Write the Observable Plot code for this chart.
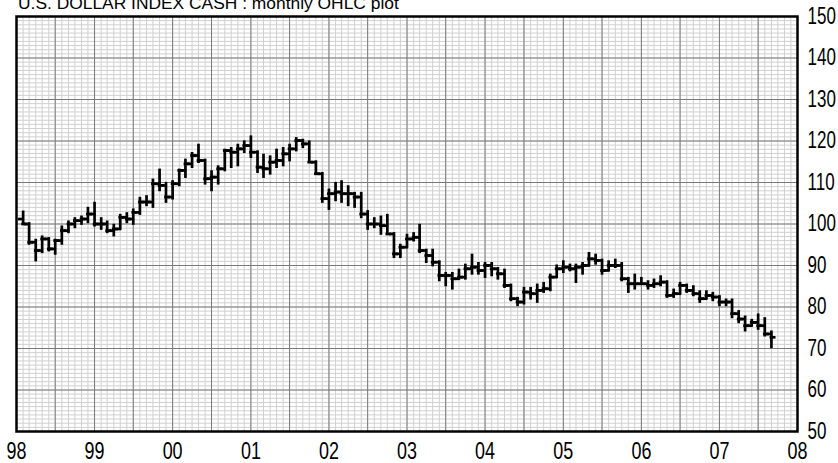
<!DOCTYPE html>
<html><head><meta charset="utf-8">
<script src="https://cdn.jsdelivr.net/npm/d3@7"></script>
<script src="https://cdn.jsdelivr.net/npm/@observablehq/plot@0.6"></script>
<style>
body{margin:0;background:#fff;}
#wrap{position:relative;width:838px;height:463px;overflow:hidden;background:#fff;}
#title{position:absolute;left:18px;top:-5px;font-family:"Liberation Sans",Arial,sans-serif;font-size:17.4px;line-height:17px;white-space:nowrap;color:#000;}
</style></head><body>
<div id="wrap"><div id="chart"></div><div id="title">U.S. DOLLAR INDEX CASH : monthly OHLC plot</div></div>
<script>
// monthly bars starting Feb 1998
const startYear = 1998, startMonth = 1;
const opens = [101.2,100.0,95.6,93.6,96.4,94.0,96.0,98.4,100.0,100.8,101.2,102.4,100.0,100.0,98.4,98.8,101.6,101.2,102.8,105.3,
  105.3,109.7,109.3,106.5,109.7,112.9,114.5,116.5,115.3,110.9,111.3,113.3,117.7,117.3,118.1,118.9,117.3,113.7,113.3,114.9,
  115.3,116.9,118.1,120.1,119.3,114.9,112.1,106.1,107.3,107.7,107.3,107.3,106.5,102.4,100.0,100.0,99.6,97.6,92.8,94.4,
  96.4,96.8,93.6,92.4,90.8,87.6,87.6,86.8,87.2,89.2,89.6,88.8,90.0,89.2,88.0,85.2,82.0,81.2,83.6,83.2,
  84.0,84.4,87.2,89.2,89.6,89.2,89.6,90.0,91.6,91.2,88.8,90.0,90.0,86.8,85.6,85.6,85.6,85.2,85.6,86.0,
  82.8,83.2,85.2,84.0,83.2,82.0,82.8,82.4,81.2,81.2,78.4,77.1,75.5,76.3,75.5,73.5];
const highs = [102.8,100.0,96.0,96.8,96.4,96.0,99.2,100.4,101.2,101.6,103.7,104.9,101.2,100.4,99.6,102.0,102.4,103.3,106.1,106.5,
  110.5,112.9,109.7,110.1,112.9,115.3,116.9,118.9,115.3,112.5,113.7,117.7,118.1,118.9,119.7,120.9,117.3,116.5,116.1,117.7,
  118.1,118.9,120.5,120.1,119.7,114.9,112.1,108.1,109.7,110.1,108.9,107.3,107.3,102.9,101.2,101.6,102.0,97.6,94.8,97.2,
  97.6,99.6,93.6,93.6,90.8,88.0,88.0,88.8,90.0,92.4,90.4,90.4,90.4,89.2,88.8,85.2,82.0,84.4,84.4,85.2,
  85.6,87.6,89.8,90.8,90.0,90.0,90.4,92.8,92.4,91.2,90.8,91.2,90.4,86.8,87.6,86.8,86.0,86.4,87.2,86.0,
  84.0,85.6,85.2,84.8,83.6,83.6,83.2,82.4,81.6,81.6,78.8,77.5,76.7,78.0,77.1,73.9];
const lows = [100.0,95.2,91.2,93.2,93.6,92.8,95.2,98.0,99.2,100.0,100.4,99.6,98.8,98.0,97.2,98.8,100.4,100.0,102.4,104.5,
  104.1,108.1,105.3,106.1,109.3,111.3,113.7,114.9,109.7,108.1,109.7,112.9,113.7,114.1,117.3,116.1,112.5,111.3,112.1,113.7,
  114.1,115.3,117.7,118.5,114.9,112.1,105.3,103.6,105.7,105.3,104.5,104.1,101.6,98.8,99.2,97.6,97.6,92.0,92.0,94.4,
  96.0,93.2,90.8,90.0,86.4,85.2,84.4,86.8,86.8,88.0,88.0,87.2,87.6,86.8,84.8,81.6,80.4,80.8,82.0,81.2,
  83.6,84.0,87.2,88.4,88.8,86.0,88.0,90.0,90.4,88.0,88.8,89.6,86.4,83.6,84.4,85.6,84.4,84.8,85.2,82.4,
  82.4,83.2,83.6,82.8,81.2,82.0,81.6,80.4,80.4,77.5,76.3,74.3,75.5,74.7,73.1,70.3];
const closes = [100.0,95.6,93.6,96.4,94.0,96.0,98.4,100.0,100.8,101.2,102.4,100.0,100.0,98.4,98.8,101.6,101.2,102.8,105.3,105.3,
  109.7,109.3,106.5,109.7,112.9,114.5,116.5,115.3,110.9,111.3,113.3,117.7,117.3,118.1,118.9,117.3,113.7,113.3,114.9,115.3,
  116.9,118.1,120.1,119.3,114.9,112.1,106.1,107.3,107.7,107.3,107.3,106.5,102.4,100.0,100.0,99.6,97.6,92.8,94.4,96.4,
  96.8,93.6,92.4,90.8,87.6,87.6,86.8,87.2,89.2,89.6,88.8,90.0,89.2,88.0,85.2,82.0,81.2,83.6,83.2,84.0,
  84.4,87.2,89.2,89.6,89.2,89.6,90.0,91.6,91.2,88.8,90.0,90.0,86.8,85.6,85.6,85.6,85.2,85.6,86.0,82.8,
  83.2,85.2,84.0,83.2,82.0,82.8,82.4,81.2,81.2,78.4,77.1,75.5,76.3,75.5,73.5,72.7];
const yearTicks = [1998,1999,2000,2001,2002,2003,2004,2005,2006,2007,2008];
const priceTicks = [50,60,70,80,90,100,110,120,130,140,150];

const bars = opens.map((o, i) => ({
  date: new Date(Date.UTC(startYear, startMonth + i, 1)),
  open: o, high: highs[i], low: lows[i], close: closes[i]
}));
const yearDates = yearTicks.map(y => new Date(Date.UTC(y, 0, 1)));
const xDomain = [yearDates[0], yearDates[yearDates.length - 1]];
const monthDates = d3.utcMonth.range(xDomain[0], d3.utcMonth.offset(xDomain[1], 1));
const halfYearDates = d3.utcMonth.every(6).range(xDomain[0], d3.utcMonth.offset(xDomain[1], 1));
const minorPrice = d3.range(priceTicks[0], priceTicks[priceTicks.length - 1] + 1, 1);
const half = 15.2 * 864e5;
const font = '"Liberation Sans",Arial,sans-serif';

const chart = Plot.plot({
  width: 838, height: 463,
  marginLeft: 16, marginRight: 41, marginTop: 16, marginBottom: 32,
  style: {fontFamily: font, fontSize: "23px", background: "white", color: "black", overflow: "visible"},
  x: {type: "utc", domain: xDomain},
  y: {domain: [priceTicks[0], priceTicks[priceTicks.length - 1]]},
  marks: [
    Plot.ruleX(monthDates, {stroke: "#d0d0d0", strokeWidth: 1}),
    Plot.ruleY(minorPrice, {stroke: "#d0d0d0", strokeWidth: 1}),
    Plot.ruleX(halfYearDates, {stroke: "#7a7a7a", strokeWidth: 1}),
    Plot.ruleY(priceTicks, {stroke: "#7a7a7a", strokeWidth: 1}),
    Plot.frame({stroke: "black", strokeWidth: 2.5}),
    Plot.axisX({ticks: yearDates, tickFormat: d3.utcFormat("%y"), tickSize: 0, tickPadding: 11, label: null}),
    Plot.axisY({anchor: "right", ticks: priceTicks, tickSize: 0, tickPadding: 10, label: null}),
    Plot.ruleX(bars, {x: "date", y1: "low", y2: "high", stroke: "black", strokeWidth: 2.7, strokeLinecap: "square"}),
    Plot.ruleY(bars, {y: "open", x1: d => new Date(+d.date - half), x2: "date", stroke: "black", strokeWidth: 2.7, strokeLinecap: "square"}),
    Plot.ruleY(bars, {y: "close", x1: "date", x2: d => new Date(+d.date + half), stroke: "black", strokeWidth: 2.7, strokeLinecap: "square"})
  ]
});
// condensed look for tick labels (Helvetica Condensed style): append a horizontal scale
function condense(selector, s) {
  chart.querySelectorAll(selector).forEach(t => {
    const tr = t.getAttribute("transform") || "";
    t.setAttribute("transform", `${tr} scale(${s},1)`);
  });
}
condense('g[aria-label="x-axis tick label"] text', 0.78);
condense('g[aria-label="y-axis tick label"] text', 0.74);
document.getElementById("chart").appendChild(chart);
</script>
</body></html>
